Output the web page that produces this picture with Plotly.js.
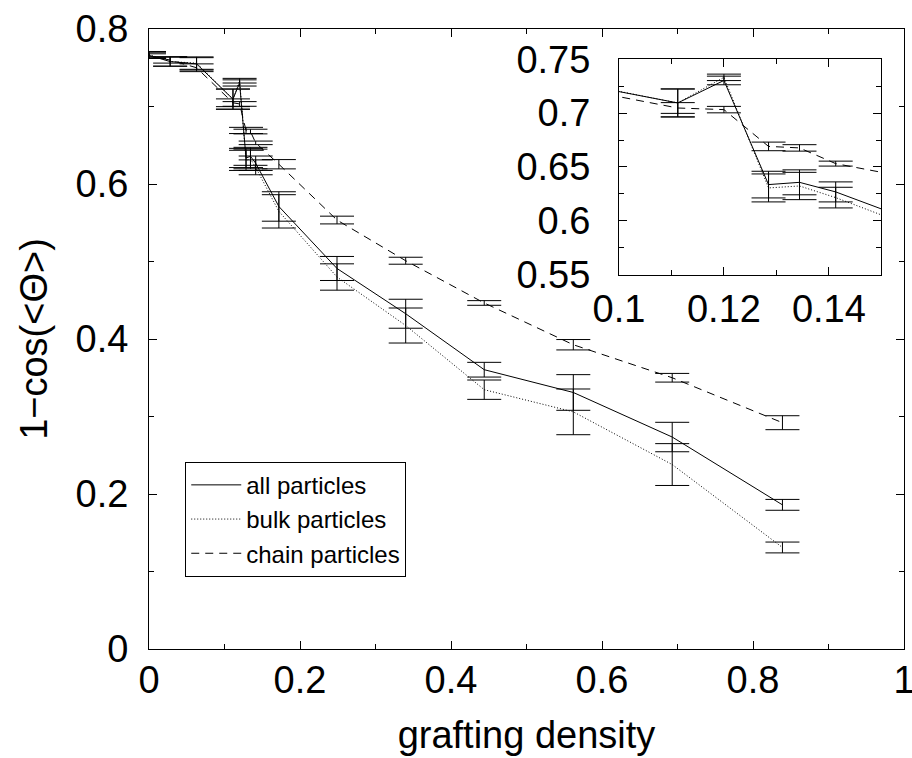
<!DOCTYPE html>
<html>
<head>
<meta charset="utf-8">
<script src="https://cdn.plot.ly/plotly-3.0.1.min.js"></script>
<style>html,body{margin:0;padding:0;background:#fff;}#chart{width:912px;height:758px;}</style>
</head>
<body>
<div id="chart"></div>
<script>
// grafting density
const density = [0, 0.028, 0.063, 0.1112, 0.12, 0.1285, 0.1344, 0.1413, 0.172, 0.249, 0.340, 0.444, 0.562, 0.693, 0.839];
// all particles
const allVals = [0.766, 0.758, 0.755, 0.7095, 0.7304, 0.6336, 0.6357, 0.6268, 0.571, 0.491, 0.4326, 0.3604, 0.331, 0.2735, 0.186];
const allErr  = [0.004, 0.006, 0.008, 0.013, 0.004, 0.0124, 0.0116, 0.0093, 0.019, 0.0155, 0.0187, 0.0095, 0.023, 0.019, 0.007];
// bulk particles
const bulkVals = [0.767, 0.758, 0.756, 0.7095, 0.7333, 0.6305, 0.6323, 0.6215, 0.5647, 0.480, 0.4174, 0.3346, 0.306, 0.238, 0.131];
const bulkErr  = [0.004, 0.006, 0.008, 0.013, 0.003, 0.013, 0.0127, 0.0096, 0.0215, 0.017, 0.0226, 0.0125, 0.0295, 0.027, 0.007];
// chain particles
const chainVals = [0.765, 0.760, 0.750, 0.7048, 0.7033, 0.6691, 0.6677, 0.6531, 0.6255, 0.5535, 0.501, 0.4465, 0.3926, 0.350, 0.292];
const chainErr  = [0.003, 0.004, 0.005, 0.005, 0.003, 0.004, 0.003, 0.0023, 0.006, 0.005, 0.0045, 0.003, 0.0067, 0.0056, 0.009];

const names = ['all particles', 'bulk particles', 'chain particles'];
const seriesVals = [allVals, bulkVals, chainVals];
const seriesErr = [allErr, bulkErr, chainErr];
const dashes = ['solid', '1px,2px', '8px,6px'];

const traces = [];
for (let k = 0; k < 3; k++) {
  for (let s = 0; s < 2; s++) {
    traces.push({
      x: density, y: seriesVals[k],
      type: 'scatter', mode: 'lines',
      name: names[k],
      showlegend: s === 0,
      xaxis: s === 0 ? 'x' : 'x2',
      yaxis: s === 0 ? 'y' : 'y2',
      line: {color: '#000', width: 1, dash: dashes[k]},
      error_y: {type: 'data', array: seriesErr[k], visible: true, color: '#000', thickness: 1, width: 17}
    });
  }
}

const fam = 'Liberation Sans, Arial, sans-serif';
const axisCommon = {
  showgrid: false, zeroline: false, showline: true, linecolor: '#000', linewidth: 1,
  mirror: 'allticks', ticks: 'inside', ticklen: 8, tickcolor: '#000', tickwidth: 1,
  tickfont: {family: fam, size: 38, color: '#000'},
  ticklabeloverflow: 'allow'
};

const layout = {
  width: 912, height: 758,
  margin: {l: 149, r: 8, t: 29, b: 109},
  paper_bgcolor: '#fff', plot_bgcolor: '#fff',
  font: {family: fam, color: '#000'},
  showlegend: true,
  legend: {
    x: 0.048, y: 0.302, xanchor: 'left', yanchor: 'top',
    bordercolor: '#000', borderwidth: 1, bgcolor: '#fff',
    font: {family: fam, size: 24, color: '#000'},
    itemwidth: 50,
    tracegroupgap: 0
  },
  xaxis: Object.assign({}, axisCommon, {
    domain: [0, 1], range: [0, 1], dtick: 0.2, tick0: 0,
    minor: {dtick: 0.1, ticks: 'inside', ticklen: 5, tickcolor: '#000'},
    ticklabelstandoff: -3,
    title: {text: 'grafting density', font: {family: fam, size: 38, color: '#000'}, standoff: 21}
  }),
  yaxis: Object.assign({}, axisCommon, {
    domain: [0, 1], range: [0, 0.8], dtick: 0.2, tick0: 0,
    minor: {dtick: 0.1, ticks: 'inside', ticklen: 5, tickcolor: '#000'},
    ticklabelstandoff: 12,
    title: {text: '1−cos(&lt;Θ&gt;)', font: {family: fam, size: 38, color: '#000'}, standoff: 16}
  }),
  xaxis2: Object.assign({}, axisCommon, {
    domain: [0.6225, 0.970], range: [0.1, 0.15], dtick: 0.02, tick0: 0.1,
    minor: {dtick: 0.01, ticks: 'inside', ticklen: 5, tickcolor: '#000'},
    ticklabelstandoff: 1,
    anchor: 'y2'
  }),
  yaxis2: Object.assign({}, axisCommon, {
    domain: [0.604, 0.951], range: [0.55, 0.75], dtick: 0.05, tick0: 0.55,
    minor: {dtick: 0.025, ticks: 'inside', ticklen: 5, tickcolor: '#000'},
    ticklabelstandoff: 20,
    anchor: 'x2'
  })
};

Plotly.newPlot('chart', traces, layout, {displayModeBar: false, staticPlot: true});
</script>
</body>
</html>
